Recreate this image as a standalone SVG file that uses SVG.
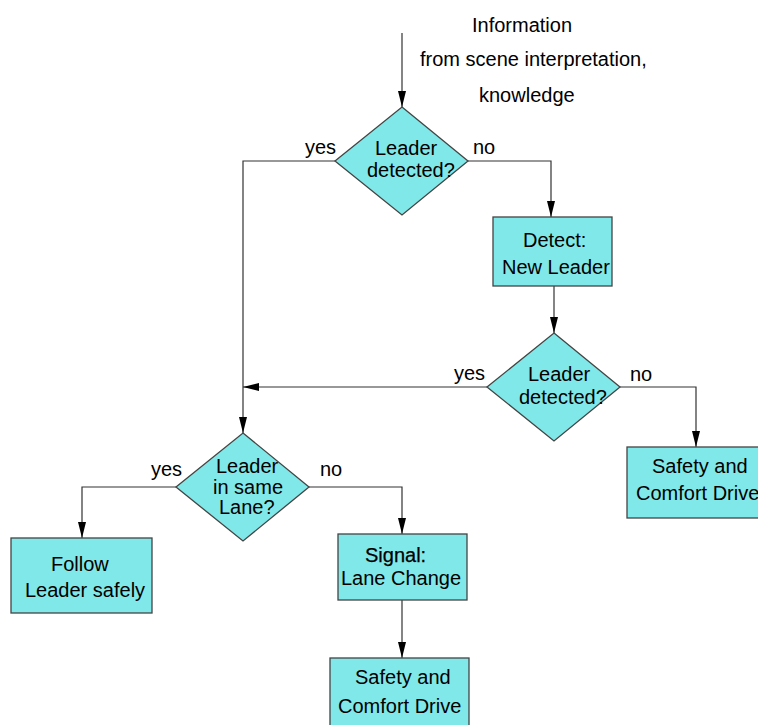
<svg xmlns="http://www.w3.org/2000/svg" width="758" height="725" viewBox="0 0 758 725">
<style>
  .shape { fill: #80E8E8; stroke: #444; stroke-width: 1.3; }
  .txt { font-family: "Liberation Sans", Arial, sans-serif; font-size: 20px; fill: #000; }
  .con { fill: none; stroke: #333; stroke-width: 1.2; }
</style>
<defs>
  <marker id="arr" viewBox="0 0 16 8" refX="16" refY="4" markerWidth="16" markerHeight="8" markerUnits="userSpaceOnUse" orient="auto">
    <path d="M0,0 L16,4 L0,8 Z" fill="#000"/>
  </marker>
</defs>
<rect width="758" height="725" fill="#fff"/>

<g id="input-label">
  <text class="txt" x="472" y="32">Information</text>
  <text class="txt" x="420" y="66">from scene interpretation,</text>
  <text class="txt" x="479" y="102">knowledge</text>
</g>

<g id="connectors">
  <path class="con" d="M402,33 V107" marker-end="url(#arr)"/>
  <path class="con" d="M335,161 H243 V433" marker-end="url(#arr)"/>
  <path class="con" d="M468,161 H551 V217" marker-end="url(#arr)"/>
  <path class="con" d="M554,286 V333" marker-end="url(#arr)"/>
  <path class="con" d="M487,387 H243" marker-end="url(#arr)"/>
  <path class="con" d="M620,387 H696 V447" marker-end="url(#arr)"/>
  <path class="con" d="M176,487 H82 V538" marker-end="url(#arr)"/>
  <path class="con" d="M309,487 H402 V534" marker-end="url(#arr)"/>
  <path class="con" d="M402,600 V658" marker-end="url(#arr)"/>
  <text class="txt" x="305" y="154">yes</text>
  <text class="txt" x="473" y="154">no</text>
  <text class="txt" x="454" y="380">yes</text>
  <text class="txt" x="630" y="381">no</text>
  <text class="txt" x="151" y="476">yes</text>
  <text class="txt" x="320" y="476">no</text>
</g>

<g id="decision1">
  <polygon class="shape" points="402,107 468,161 402,215 335,161"/>
  <text class="txt" x="375" y="155">Leader</text>
  <text class="txt" x="367" y="177">detected?</text>
</g>

<g id="detect-new-leader">
  <rect class="shape" x="493" y="217" width="119" height="69"/>
  <text class="txt" x="523" y="247">Detect:</text>
  <text class="txt" x="502" y="274">New Leader</text>
</g>

<g id="decision2">
  <polygon class="shape" points="554,333 620,387 554,441 487,387"/>
  <text class="txt" x="528" y="381">Leader</text>
  <text class="txt" x="519" y="404">detected?</text>
</g>

<g id="safety-right">
  <rect class="shape" x="627" y="447" width="148" height="71"/>
  <text class="txt" x="652" y="473">Safety and</text>
  <text class="txt" x="636" y="500">Comfort Drive</text>
</g>

<g id="decision3">
  <polygon class="shape" points="243,433 309,487 243,541 176,487"/>
  <text class="txt" x="216" y="473">Leader</text>
  <text class="txt" x="213" y="494">in same</text>
  <text class="txt" x="219" y="514">Lane?</text>
</g>

<g id="follow-leader">
  <rect class="shape" x="11" y="538" width="141" height="75"/>
  <text class="txt" x="51" y="571">Follow</text>
  <text class="txt" x="25" y="597">Leader safely</text>
</g>

<g id="signal-lane-change">
  <rect class="shape" x="338" y="534" width="129" height="66"/>
  <text class="txt" x="365" y="562" stroke="#000" stroke-width="0.25">Signal:</text>
  <text class="txt" x="341" y="585">Lane Change</text>
</g>

<g id="safety-bottom">
  <rect class="shape" x="330" y="658" width="139" height="82"/>
  <text class="txt" x="355" y="684">Safety and</text>
  <text class="txt" x="338" y="713">Comfort Drive</text>
</g>
</svg>
